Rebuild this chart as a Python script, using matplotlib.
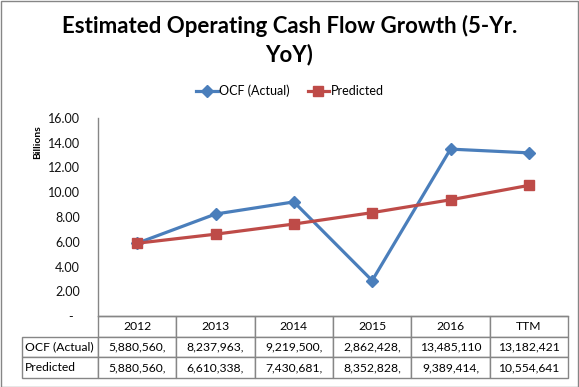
import matplotlib
matplotlib.use("Agg")
import matplotlib.pyplot as plt
from matplotlib.table import Table
from matplotlib.patches import Rectangle
from matplotlib.ticker import FixedLocator, FixedFormatter

plt.rcParams['font.family'] = ['Lato', 'DejaVu Sans']

# ---- data ----
categories = ["2012", "2013", "2014", "2015", "2016", "TTM"]
ocf_actual = [5.880560, 8.237963, 9.219500, 2.862428, 13.485110, 13.182421]   # billions
predicted = [5.880560, 6.610338, 7.430681, 8.352828, 9.389414, 10.554641]     # billions
ocf_table = ["5,880,560,", "8,237,963,", "9,219,500,", "2,862,428,", "13,485,110", "13,182,421"]
pred_table = ["5,880,560,", "6,610,338,", "7,430,681,", "8,352,828,", "9,389,414,", "10,554,641"]
series_names = ["OCF (Actual)", "Predicted"]
yticks = [0, 2, 4, 6, 8, 10, 12, 14, 16]
ytick_labels = ["-  ", "2.00", "4.00", "6.00", "8.00", "10.00", "12.00", "14.00", "16.00"]
title = "Estimated Operating Cash Flow Growth (5-Yr.\nYoY)"

blue = "#4A7EBB"
red = "#BE4B48"
grey = "#868686"

W, H = 579, 387
fig = plt.figure(figsize=(W / 100, H / 100), dpi=100)
L, R, T, B = 98, 568, 118, 316
ax = fig.add_axes([L / W, 1 - B / H, (R - L) / W, (B - T) / H])

x = list(range(len(categories)))
ax.plot(x, ocf_actual, color=blue, lw=2.3, marker="D", ms=6, label=series_names[0])
ax.plot(x, predicted, color=red, lw=2.3, marker="s", ms=7, label=series_names[1])

ax.set_xlim(-0.5, len(categories) - 0.5)
ax.set_ylim(0, 16)
ax.yaxis.set_major_locator(FixedLocator(yticks))
ax.yaxis.set_major_formatter(FixedFormatter(ytick_labels))
ax.set_xticks([])
ax.tick_params(axis="y", length=0, pad=13, labelsize=9, labelcolor="#111111")
for s in ["top", "right"]:
    ax.spines[s].set_visible(False)
for s in ["left", "bottom"]:
    ax.spines[s].set_color(grey)
    ax.spines[s].set_linewidth(1)

fig.text(38 / W, 1 - 142 / H, "Billions", rotation=90, ha="center", va="center",
         fontsize=7.5, fontweight="bold")

fig.text(0.5, 1 - 40 / H, title, ha="center", va="center", fontsize=16,
         fontweight="bold", linespacing=1.35)

leg = fig.legend(loc="center", bbox_to_anchor=(290 / W, 1 - 91 / H), ncol=2,
                 frameon=False, fontsize=9, handlelength=1.7, handletextpad=0.15,
                 columnspacing=1.4)

# ---- data table ----
tx0 = (22 - L) / (R - L)
tbl_h = (378 - B) / (B - T)
tbl = Table(ax, bbox=[tx0, -tbl_h, 1 - tx0, tbl_h])
lab_w = 76
col_w = (R - L) / len(categories)
rows = [[""] + categories, [series_names[0]] + ocf_table, [series_names[1]] + pred_table]
for r, row in enumerate(rows):
    for c, txt in enumerate(row):
        w = lab_w if c == 0 else col_w
        cell = tbl.add_cell(r, c, width=w, height=1, text=txt,
                            loc="left" if c == 0 else "center", edgecolor=grey)
        cell.set_linewidth(1)
        cell.PAD = 0.04
        cell.get_text().set_fontsize(8.7)
        if r == 0 and c == 0:
            cell.visible_edges = "open"
tbl.auto_set_font_size(False)
ax.add_table(tbl)

fig.patches.append(Rectangle((0.5 / W, 0.5 / H), (W - 1.5) / W, (H - 1.5) / H,
                             transform=fig.transFigure, fill=False, edgecolor=grey, lw=1))

fig.savefig("out.png", dpi=100)
